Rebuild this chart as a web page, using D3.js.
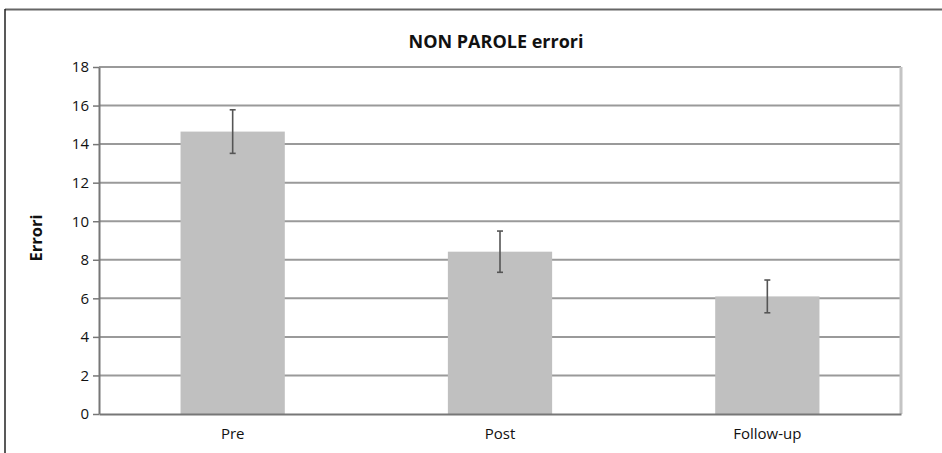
<!DOCTYPE html>
<html><head><meta charset="utf-8">
<script src="https://cdn.jsdelivr.net/npm/d3@7"></script>
<style>body{margin:0;background:#fff}svg{display:block}text{font-family:"Open Sans","Fira Sans",sans-serif}</style>
</head><body><svg id="c" width="942" height="453"></svg>
<script>
const categories = ["Pre", "Post", "Follow-up"];
const values = [14.65, 8.42, 6.1];
const errors = [1.13, 1.07, 0.85];
const yTicks = [0, 2, 4, 6, 8, 10, 12, 14, 16, 18];
const title = "NON PAROLE errori";
const yTitle = "Errori";

const svg = d3.select("#c");
const m = {l: 99, r: 901, t: 67, b: 414};
const x = d3.scaleBand().domain(categories).range([m.l, m.r]).padding(0);
const y = d3.scaleLinear().domain([0, 18]).range([m.b, m.t]);
const barW = x.bandwidth() * 0.39;

// frame (open at right/bottom, cropped)
svg.append("line").attr("x1", 5).attr("x2", 942).attr("y1", 9.5).attr("y2", 9.5).attr("stroke", "#666").attr("stroke-width", 2);
svg.append("line").attr("x1", 5).attr("x2", 5).attr("y1", 9).attr("y2", 453).attr("stroke", "#222").attr("stroke-width", 1.5);

// gridlines
svg.append("g").selectAll("line").data(yTicks.filter(d => d > 0)).join("line")
  .attr("x1", m.l).attr("x2", m.r).attr("y1", d => y(d)).attr("y2", d => y(d))
  .attr("stroke", "#9a9a9a").attr("stroke-width", 2);

// right border
svg.append("line").attr("x1", m.r).attr("x2", m.r).attr("y1", m.t).attr("y2", m.b)
  .attr("stroke", "#c4c4c4").attr("stroke-width", 3);

// bars
svg.append("g").selectAll("rect").data(categories).join("rect")
  .attr("x", (d) => x(d) + x.bandwidth() / 2 - barW / 2)
  .attr("width", barW)
  .attr("y", (d, i) => y(values[i]))
  .attr("height", (d, i) => y(0) - y(values[i]))
  .attr("fill", "#c0c0c0");

// error bars
const eg = svg.append("g").attr("stroke", "#555").attr("stroke-width", 1.6);
categories.forEach((c, i) => {
  const cx = x(c) + x.bandwidth() / 2;
  eg.append("line").attr("x1", cx).attr("x2", cx).attr("y1", y(values[i] + errors[i])).attr("y2", y(values[i] - errors[i]));
  [values[i] + errors[i], values[i] - errors[i]].forEach(v => {
    eg.append("line").attr("x1", cx - 3).attr("x2", cx + 3).attr("y1", y(v)).attr("y2", y(v));
  });
});

// y axis
const ya = svg.append("g").attr("transform", `translate(${m.l},0)`)
  .call(d3.axisLeft(y).tickValues(yTicks).tickSize(6).tickPadding(4).tickSizeOuter(0));
ya.select(".domain").attr("stroke", "#777").attr("stroke-width", 2);
ya.selectAll(".tick line").attr("stroke", "#777").attr("stroke-width", 1.5);
ya.selectAll("text").attr("font-size", 15).attr("fill", "#111").attr("font-family", "'Open Sans',sans-serif");

// x axis
const xa = svg.append("g").attr("transform", `translate(0,${m.b})`)
  .call(d3.axisBottom(x).tickSize(0).tickPadding(14));
xa.select(".domain").attr("stroke", "#777").attr("stroke-width", 2);
xa.selectAll("text").attr("font-size", 15).attr("fill", "#111").attr("font-family", "'Open Sans',sans-serif");

// titles
svg.append("text").attr("x", 496).attr("y", 48).attr("text-anchor", "middle")
  .attr("font-size", 18).attr("font-weight", "bold").attr("fill", "#111").text(title);
svg.append("text").attr("transform", "translate(42,238) rotate(-90)").attr("text-anchor", "middle")
  .attr("font-size", 16.5).attr("font-weight", "bold").attr("fill", "#111").text(yTitle);
</script></body></html>
